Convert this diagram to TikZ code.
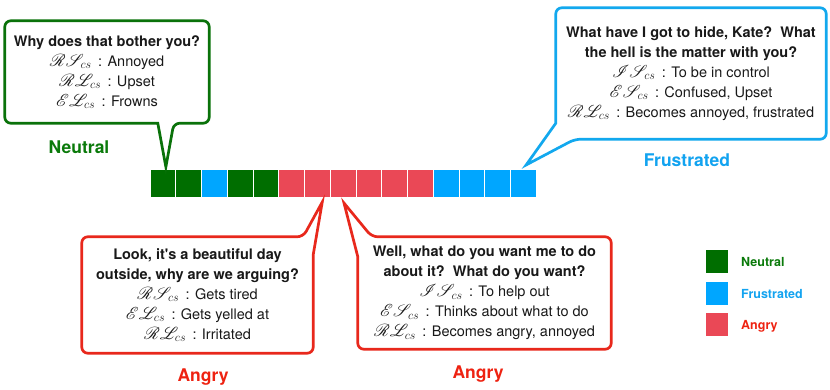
\documentclass[tikz,border=0pt]{standalone}
\usepackage{fontspec}
\setmainfont{TeX Gyre Heros}
\usepackage{mathrsfs}
\usetikzlibrary{calc}
\DeclareMathSizes{14.5}{16.5}{13}{10}
\definecolor{cellG}{HTML}{006E00}
\definecolor{cellB}{HTML}{00A6FF}
\definecolor{cellR}{HTML}{EA4856}
\definecolor{lineG}{HTML}{0A720A}
\definecolor{lineB}{HTML}{12A8EE}
\definecolor{lineR}{HTML}{E8281C}
\definecolor{labG}{HTML}{0A7A0A}
\definecolor{labB}{HTML}{12A3F0}
\definecolor{labR}{HTML}{EE2211}
\newcommand{\Sc}[2]{$\mathscr{#1}\mathscr{#2}_{cs}$\,}
\begin{document}
\begin{tikzpicture}[x=1pt,y=-1pt,
  cell/.style={draw=white,line width=0.6pt,minimum width=25.733pt,minimum height=28.5pt,inner sep=0pt},
  bubbletext/.style={align=center,inner sep=0pt,font=\fontsize{14.5}{20}\selectfont,text=black!90},
  bubble/.style={line width=2.7pt,fill=white},
  statelabel/.style={font=\fontsize{17.5}{20}\selectfont\bfseries,text height=12.6pt,text depth=0pt,inner sep=0pt},
  legbox/.style={minimum width=22pt,minimum height=23pt,inner sep=0pt},
  legtext/.style={font=\fontsize{12.5}{14}\selectfont\bfseries,anchor=west,text height=9pt,text depth=0pt,inner sep=0pt}]
\fill[white] (0,0) rectangle (830,390);
\useasboundingbox (0,0) rectangle (830,390);
% strip of cells
\foreach \c [count=\i] in {G,G,B,G,G,R,R,R,R,R,R,B,B,B,B}
  \node[cell,fill=cell\c] (c\i) at ({150+25.733*(\i-0.5)},183.5) {};
% pointer tips
\coordinate (t1) at ([shift={(3,-2)}]c1.north);
\coordinate (t2) at ([shift={(3,-4)}]c15.north);
\coordinate (t3) at ([shift={(5,4)}]c7.south);
\coordinate (t4) at ([shift={(1,5)}]c8.south);
% bubble nodes (geometry)
\node[minimum width=204pt,minimum height=102pt,inner sep=0pt] (b1) at (107,72) {};
\node[minimum width=270pt,minimum height=131pt,inner sep=0pt] (b2) at (691,73.5) {};
\node[minimum width=231pt,minimum height=116pt,inner sep=0pt] (b3) at (197.5,295) {};
\node[minimum width=253pt,minimum height=112pt,inner sep=0pt] (b4) at (484.5,293) {};
% outlines
\draw[bubble,draw=lineG] (b1.east) [rounded corners=6pt] -- (b1.south east) -- ($(b1.south west)+(169,0)$) [sharp corners] -- (t1) -- ($(b1.south west)+(153,0)$) [rounded corners=6pt] -- (b1.south west) -- (b1.north west) -- (b1.north east) -- cycle;
\draw[bubble,draw=lineB] (b2.north) [rounded corners=6pt] -- (b2.north east) -- (b2.south east) -- ($(b2.south west)+(19,0)$) [sharp corners] -- (t2) -- ($(b2.south west)+(0,-16)$) [rounded corners=6pt] -- (b2.north west) -- cycle;
\draw[bubble,draw=lineR] (b3.south) [rounded corners=6pt] -- (b3.south west) -- (b3.north west) -- ($(b3.north east)+(-10,0)$) [sharp corners] -- (t3) -- ($(b3.north east)+(0,18)$) [rounded corners=6pt] -- (b3.south east) -- cycle;
\draw[bubble,draw=lineR] (b4.south) [rounded corners=6pt] -- (b4.south east) -- (b4.north east) -- ($(b4.north west)+(14,0)$) [sharp corners] -- (t4) -- ($(b4.north west)+(0,20)$) [rounded corners=6pt] -- (b4.south west) -- cycle;
% bubble texts
\node[bubbletext] (x1) at (b1.center) {{\bfseries Why does that bother you?}\\ \Sc{R}{S} : Annoyed\\ \Sc{R}{L} : Upset\\ \Sc{E}{L} : Frowns};
\node[bubbletext] (x2) at (b2.center) {{\bfseries What have I got to hide, Kate?\ \ What}\\{\bfseries the hell is the matter with you?}\\ \Sc{I}{S} : To be in control\\ \Sc{E}{S} : Confused, Upset\\ \Sc{R}{L} : Becomes annoyed, frustrated};
\node[bubbletext] (x3) at (b3.center) {{\bfseries Look, it\textquotesingle s a beautiful day}\\{\bfseries outside, why are we arguing?}\\ \Sc{R}{S} : Gets tired\\ \Sc{E}{L} : Gets yelled at\\ \Sc{R}{L} : Irritated};
\node[bubbletext] (x4) at (b4.center) {{\bfseries Well, what do you want me to do}\\{\bfseries about it?\ \ What do you want?}\\ \Sc{I}{S} : To help out\\ \Sc{E}{S} : Thinks about what to do\\ \Sc{R}{L} : Becomes angry, annoyed};
% state labels
\node[statelabel,text=labG] (l1) at (79,147) {Neutral};
\node[statelabel,text=labB] (l2) at (687,160) {Frustrated};
\node[statelabel,text=labR] (l3) at (203,375) {Angry};
\node[statelabel,text=labR] (l4) at (478,372) {Angry};
% legend
\node[legbox,fill=cellG] (g1) at (717,261.5) {};
\node[legbox,fill=cellB] (g2) at (717,293.5) {};
\node[legbox,fill=cellR] (g3) at (717,324.5) {};
\node[legtext,text=labG] (h1) at (741,261.5) {Neutral};
\node[legtext,text=labB] (h2) at (741,293.5) {Frustrated};
\node[legtext,text=labR] (h3) at (741,324.5) {Angry};
\end{tikzpicture}
\end{document}
